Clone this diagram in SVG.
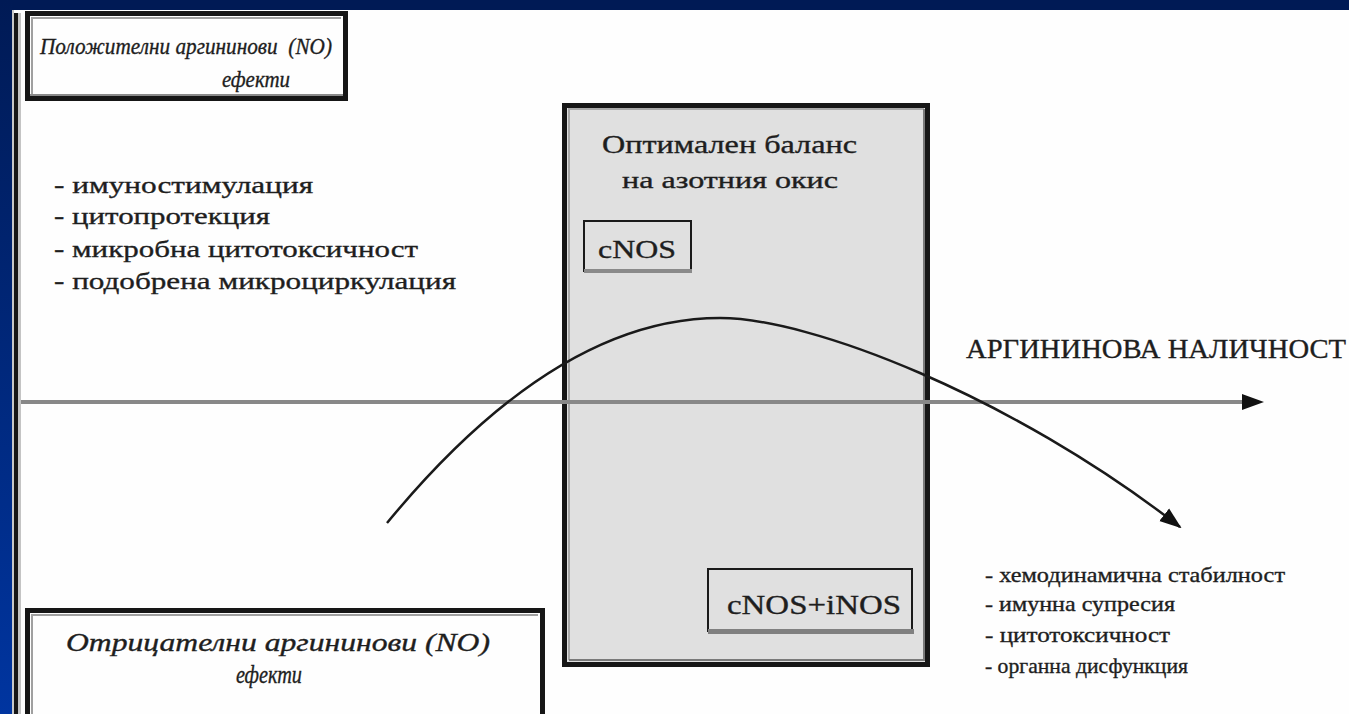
<svg xmlns="http://www.w3.org/2000/svg" width="1349" height="714" viewBox="0 0 1349 714">
  <defs>
    <linearGradient id="bgLeft" x1="0" y1="0" x2="0" y2="1">
      <stop offset="0" stop-color="#001a55"/>
      <stop offset="1" stop-color="#0035a0"/>
    </linearGradient>
    <marker id="headCurve" viewBox="0 0 22 22" refX="20" refY="11" markerWidth="22" markerHeight="22" markerUnits="userSpaceOnUse" orient="auto">
      <path d="M0,3 L22,11 L0,19 Z" fill="#111"/>
    </marker>
    <marker id="headAxis" viewBox="0 0 22 16" refX="2" refY="8" markerWidth="22" markerHeight="16" markerUnits="userSpaceOnUse" orient="auto">
      <path d="M0,0 L22,8 L0,16 Z" fill="#111"/>
    </marker>
  </defs>
  <style>
    .serif { font-family: "Liberation Serif", "Times New Roman", serif; fill: #1e1e1e; stroke: #1e1e1e; stroke-width: 0.35; }
    .ital { font-style: italic; }
    .frameOuter { stroke: #161616; stroke-width: 5; }
    .boxWhite { fill: #fefefe; }
    .boxGray { fill: #e0e0e0; }
  </style>

  <!-- background -->
  <rect x="0" y="0" width="1349" height="714" fill="#fefefe"/>
  <rect x="0" y="0" width="1349" height="10" fill="#001a55"/>
  <rect x="0" y="0" width="12" height="714" fill="url(#bgLeft)"/>
  <rect x="12" y="10" width="2" height="704" fill="#c8c8c8"/>
  <rect x="14" y="13" width="4" height="701" fill="#161616"/>
  <rect x="18" y="13" width="3" height="701" fill="#c4c4c4"/>

  <!-- central box -->
  <g id="optimal-box">
    <rect x="564.5" y="105.5" width="363" height="559" class="frameOuter boxGray"/>
    <path d="M569,660 L569,109 L924,109" fill="none" stroke="#a8a8a8" stroke-width="2"/>
    <path d="M924,109 L924,660 L569,660" fill="none" stroke="#7a7a7a" stroke-width="2"/>
    <text class="serif" x="602" y="153" font-size="26" textLength="255" lengthAdjust="spacingAndGlyphs">Оптимален баланс</text>
    <text class="serif" x="622" y="188" font-size="23" textLength="216" lengthAdjust="spacingAndGlyphs">на азотния окис</text>
  </g>

  <g id="cnos">
    <rect x="584" y="221" width="107" height="50" class="boxGray" stroke="#1a1a1a" stroke-width="2"/>
    <rect x="584" y="269" width="108" height="4" fill="#8a8a8a"/>
    <text class="serif" x="598" y="258" font-size="26" textLength="78" lengthAdjust="spacingAndGlyphs">cNOS</text>
  </g>

  <g id="cnos-inos">
    <rect x="708" y="569" width="204" height="62" class="boxGray" stroke="#1a1a1a" stroke-width="2"/>
    <rect x="708" y="629" width="206" height="5" fill="#808080"/>
    <text class="serif" x="727" y="614" font-size="27" textLength="174" lengthAdjust="spacingAndGlyphs">cNOS+iNOS</text>
  </g>

  <!-- top box -->
  <g id="positive-box">
    <rect x="27.5" y="13.5" width="318" height="85" class="frameOuter boxWhite"/>
    <path d="M32,94 L32,18 L341,18" fill="none" stroke="#a0a0a0" stroke-width="2"/>
    <path d="M30,95 L343,95" stroke="#8a8a8a" stroke-width="2"/>
    <text class="serif ital" x="40" y="54" font-size="24" textLength="292" lengthAdjust="spacingAndGlyphs" xml:space="preserve">Положителни аргининови  (NO)</text>
    <text class="serif ital" x="222" y="87" font-size="24" textLength="68" lengthAdjust="spacingAndGlyphs">ефекти</text>
  </g>

  <!-- bottom box -->
  <g id="negative-box">
    <rect x="27.5" y="610.5" width="515" height="110" class="frameOuter boxWhite"/>
    <path d="M32,714 L32,615 L538,615" fill="none" stroke="#a0a0a0" stroke-width="2"/>
    <text class="serif ital" x="66" y="651" font-size="25" textLength="424" lengthAdjust="spacingAndGlyphs">Отрицателни аргининови (NO)</text>
    <text class="serif ital" x="236" y="683" font-size="25" textLength="66" lengthAdjust="spacingAndGlyphs">ефекти</text>
  </g>

  <!-- lists -->
  <g id="positive-list">
    <text class="serif" x="54" y="193" font-size="24" textLength="259" lengthAdjust="spacingAndGlyphs">- имуностимулация</text>
    <text class="serif" x="54" y="224" font-size="24" textLength="216" lengthAdjust="spacingAndGlyphs">- цитопротекция</text>
    <text class="serif" x="54" y="257" font-size="24" textLength="364" lengthAdjust="spacingAndGlyphs">- микробна цитотоксичност</text>
    <text class="serif" x="54" y="289" font-size="24" textLength="402" lengthAdjust="spacingAndGlyphs">- подобрена микроциркулация</text>
  </g>

  <g id="negative-list">
    <text class="serif" x="985" y="582" font-size="21" textLength="300" lengthAdjust="spacingAndGlyphs">- хемодинамична стабилност</text>
    <text class="serif" x="985" y="611" font-size="21" textLength="190" lengthAdjust="spacingAndGlyphs">- имунна супресия</text>
    <text class="serif" x="985" y="642" font-size="21" textLength="185" lengthAdjust="spacingAndGlyphs">- цитотоксичност</text>
    <text class="serif" x="985" y="673" font-size="21" textLength="203" lengthAdjust="spacingAndGlyphs">- органна дисфункция</text>
  </g>

  <g id="axis-label">
    <text class="serif" x="966" y="358" font-size="27" textLength="380" lengthAdjust="spacingAndGlyphs">АРГИНИНОВА НАЛИЧНОСТ</text>
  </g>

  <!-- connectors -->
  <g id="connectors">
    <line x1="21" y1="402" x2="1244" y2="402" stroke="#888" stroke-width="4" marker-end="url(#headAxis)"/>
    <path d="M387,523 Q556,318 720,318 C810,318 1010,395 1180,527" fill="none" stroke="#1a1a1a" stroke-width="2.5" marker-end="url(#headCurve)"/>
  </g>
</svg>
